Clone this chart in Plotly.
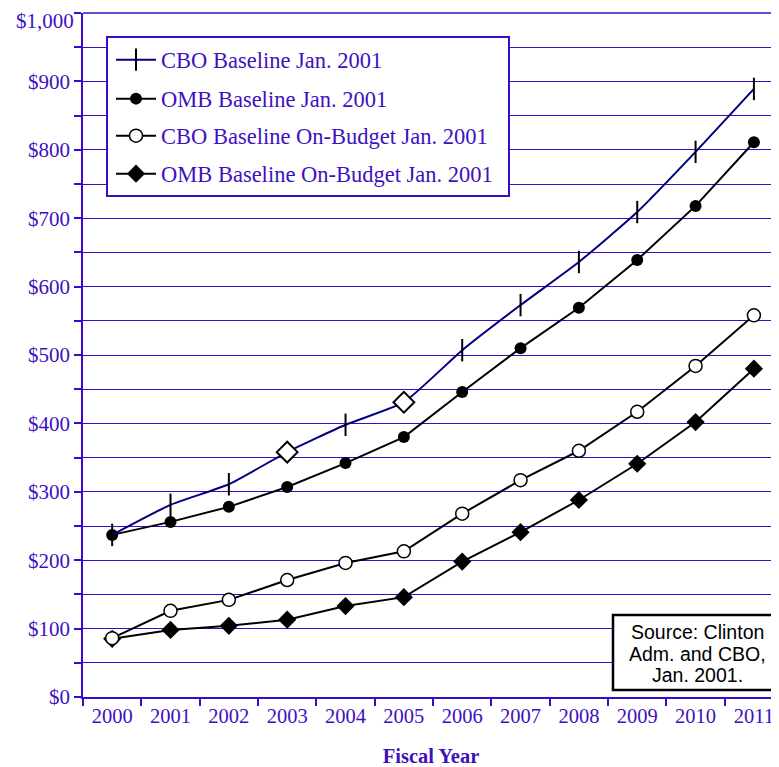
import plotly.graph_objects as go

years = ["2000", "2001", "2002", "2003", "2004", "2005", "2006", "2007", "2008", "2009", "2010", "2011"]
cbo_baseline = [237, 281, 311, 358, 398, 431, 507, 573, 636, 709, 797, 889]
omb_baseline = [237, 256, 278, 307, 342, 380, 446, 510, 569, 639, 718, 811]
cbo_onbudget = [86, 126, 142, 171, 196, 213, 268, 317, 360, 417, 484, 558]
omb_onbudget = [85, 98, 104, 113, 133, 146, 198, 241, 288, 341, 402, 480]
cbo_symbols = ["line-ns", "line-ns", "line-ns", "diamond", "line-ns", "diamond",
               "line-ns", "line-ns", "line-ns", "line-ns", "line-ns", "line-ns"]
y_ticks = [0, 100, 200, 300, 400, 500, 600, 700, 800, 900, 1000]
y_labels = ["$0", "$100", "$200", "$300", "$400", "$500", "$600", "$700", "$800", "$900", "$1,000"]
source_lines = ["Source: Clinton", "Adm. and CBO,", "Jan. 2001."]

PURPLE = "#3A0BC8"
TEXT = "#4010C0"
SERIF = "Liberation Serif, Times New Roman, serif"
SANS = "Liberation Sans, Arial, sans-serif"

OFF = 8  # default page body margin
W, H = 779 - OFF, 767 - OFF
# screen-space plot box
PL, PT, PR, PB = 83, 13, 779, 697
L, T = PL - OFF, PT - OFF
R = 0
B = H - (PB - OFF)
PW = PR - PL
PH = PB - PT


def px_x(x):
    return (x - PL) / PW


def px_y(y):
    return (PB - y) / PH


fig = go.Figure()

fig.add_trace(go.Scatter(
    x=years, y=omb_onbudget, name="OMB Baseline On-Budget Jan. 2001",
    mode="lines+markers", line=dict(color="black", width=2),
    marker=dict(symbol="diamond", size=14, color="black"), legend="legend4"))
fig.add_trace(go.Scatter(
    x=years, y=cbo_onbudget, name="CBO Baseline On-Budget Jan. 2001",
    mode="lines+markers", line=dict(color="black", width=2),
    marker=dict(symbol="circle", size=13, color="white", line=dict(color="black", width=1.5)),
    legend="legend3"))
fig.add_trace(go.Scatter(
    x=years, y=omb_baseline, name="OMB Baseline Jan. 2001",
    mode="lines+markers", line=dict(color="black", width=2),
    marker=dict(symbol="circle", size=12, color="black"), legend="legend2"))
fig.add_trace(go.Scatter(
    x=years, y=cbo_baseline, name="CBO Baseline Jan. 2001",
    mode="lines+markers", line=dict(color="#000080", width=2, shape="spline", smoothing=0.5),
    marker=dict(symbol=cbo_symbols, size=16, color="white", line=dict(color="black", width=2)),
    legend="legend"))

legend_centers = [60, 99, 136, 174]
legend_names = ["legend", "legend2", "legend3", "legend4"]
leg_common = dict(
    x=px_x(111), xanchor="left", yanchor="middle",
    bgcolor="rgba(0,0,0,0)", borderwidth=0, itemwidth=40,
    font=dict(family=SERIF, size=22.5, color=TEXT),
)
legends = {}
for name, cy in zip(legend_names, legend_centers):
    legends[name] = dict(leg_common, y=px_y(cy))

annotations = []
for line_text, cy in zip(source_lines, [632, 654, 675]):
    annotations.append(dict(
        xref="paper", yref="paper", x=px_x(697), y=px_y(cy),
        xanchor="center", yanchor="middle", showarrow=False,
        text=line_text, font=dict(family=SANS, size=19.5, color="black"),
    ))

# top tick label placed just inside the page so it is not clipped
tick_text_shown = y_labels[:-1] + [""]
annotations.append(dict(
    xref="paper", yref="paper", x=0, y=1, xanchor="right", yanchor="top",
    xshift=-8, yshift=T, showarrow=False, borderpad=0,
    text=y_labels[-1], font=dict(family=SERIF, size=21, color=TEXT),
))

fig.update_layout(
    width=W, height=H,
    margin=dict(l=L, r=R, t=T, b=B),
    paper_bgcolor="white", plot_bgcolor="white",
    showlegend=True,
    **legends,
    xaxis=dict(
        type="category", range=[-0.5, 11.43], tickson="boundaries",
        ticks="outside", ticklen=7, tickcolor=PURPLE, tickwidth=1.5,
        showgrid=False, showline=True, linecolor=PURPLE, linewidth=1.5,
        tickfont=dict(family=SERIF, size=20.5, color=TEXT),
        title=dict(text="<b>Fiscal Year</b>", font=dict(family=SERIF, size=20.5, color=TEXT), standoff=24),
        zeroline=False, automargin=False,
    ),
    yaxis=dict(
        range=[0, 1000], tickvals=y_ticks, ticktext=tick_text_shown,
        ticks="outside", ticklen=7, tickcolor=PURPLE, tickwidth=1.5,
        showgrid=True, gridcolor=PURPLE, gridwidth=1.2,
        minor=dict(dtick=50, showgrid=True, gridcolor=PURPLE, gridwidth=1.2,
                   ticks="outside", ticklen=7, tickcolor=PURPLE),
        showline=True, linecolor=PURPLE, linewidth=1.5,
        tickfont=dict(family=SERIF, size=21, color=TEXT),
        zeroline=False, automargin=False,
    ),
    shapes=[
        dict(type="line", xref="paper", yref="paper",
             x0=0, x1=1, y0=1, y1=1,
             line=dict(color=PURPLE, width=1.5), layer="below"),
        dict(type="rect", xref="paper", yref="paper",
             x0=px_x(107), x1=px_x(509), y0=px_y(196), y1=px_y(37),
             line=dict(color=PURPLE, width=2), fillcolor="white", layer="above"),
        dict(type="rect", xref="paper", yref="paper",
             x0=px_x(613), x1=px_x(781), y0=px_y(690), y1=px_y(615),
             line=dict(color="black", width=2.5), fillcolor="white", layer="above"),
    ],
    annotations=annotations,
)

fig.write_html("out.html")
